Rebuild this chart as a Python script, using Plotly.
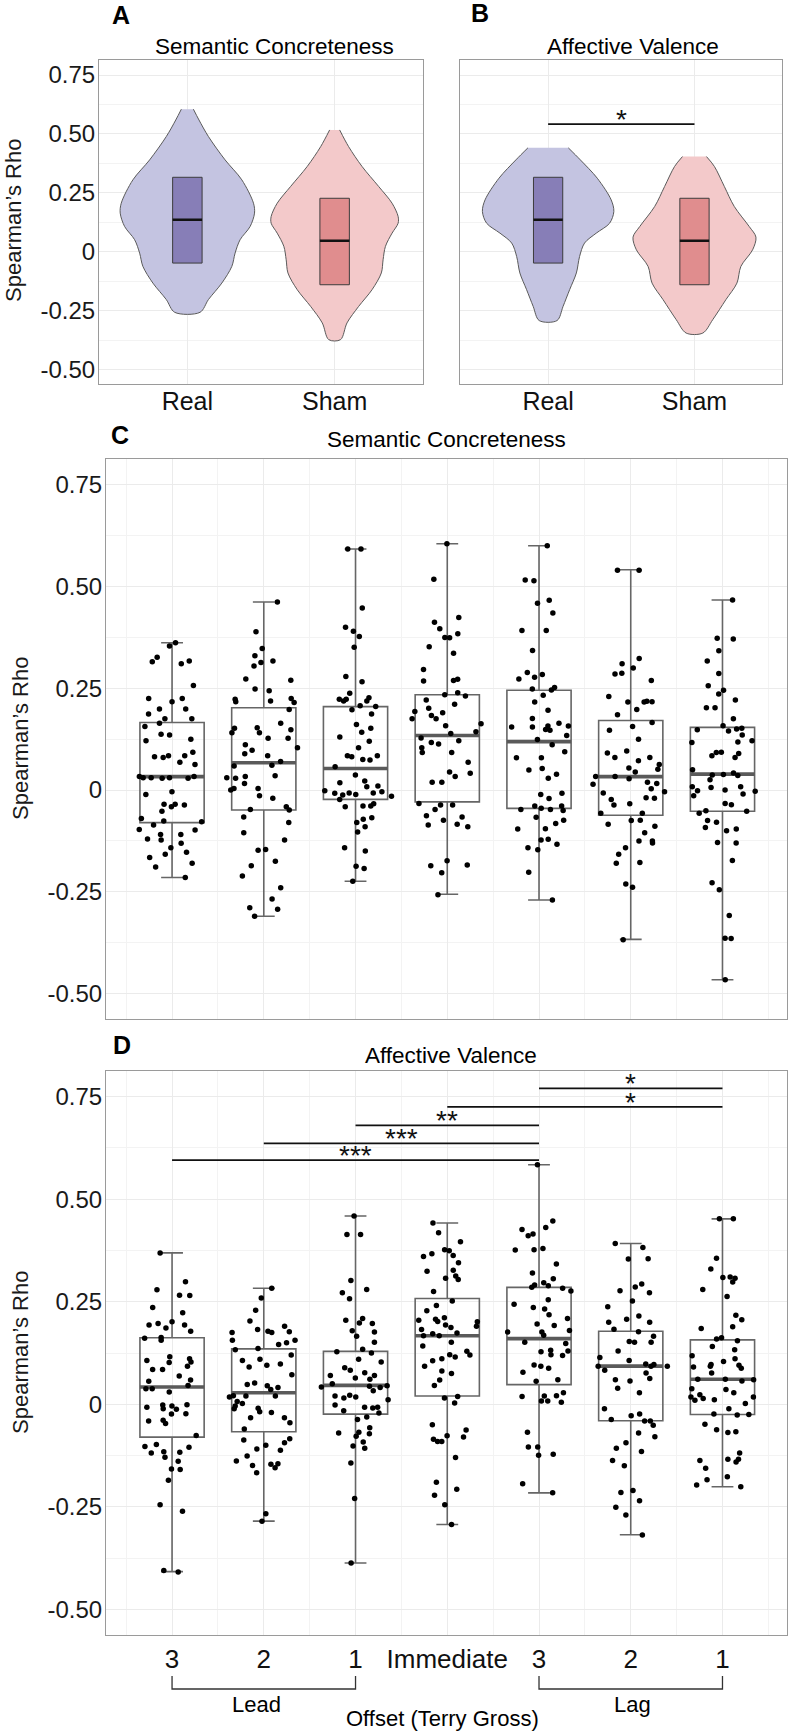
import plotly.graph_objects as go

W, H = 790, 1732
FONT_REG = "Liberation Sans, Arial, Helvetica, sans-serif"

# ---------------- data ----------------
violin_groups = ["Real", "Sham"]
offset_pos = [1, 2, 3, 4, 5, 6, 7]
offset_labels = ["3", "2", "1", "Immediate", "3", "2", "1"]
y_tick_vals = [-0.5, -0.25, 0, 0.25, 0.5, 0.75]
y_tick_text = ["-0.50", "-0.25", "0", "0.25", "0.50", "0.75"]

# violin outlines (level of rho, half width of density) - panel A
vA_real_lvl = [0.605, 0.559, 0.489, 0.390, 0.305, 0.206, 0.164, 0.107, 0.051, -0.006, -0.062, -0.133, -0.203, -0.257]
vA_real_w = [0.041, 0.079, 0.143, 0.256, 0.370, 0.449, 0.456, 0.426, 0.358, 0.324, 0.302, 0.234, 0.143, 0.086]
vA_sham_lvl = [0.517, 0.446, 0.362, 0.277, 0.206, 0.150, 0.121, 0.079, 0.023, -0.034, -0.090, -0.161, -0.232, -0.302, -0.373]
vA_sham_w = [0.034, 0.095, 0.186, 0.299, 0.390, 0.431, 0.431, 0.390, 0.345, 0.329, 0.317, 0.254, 0.163, 0.084, 0.040]
# panel B
vB_real_lvl = [0.441, 0.390, 0.312, 0.220, 0.171, 0.121, 0.079, 0.037, -0.020, -0.090, -0.161, -0.232, -0.292]
vB_real_w = [0.138, 0.220, 0.336, 0.431, 0.449, 0.420, 0.329, 0.249, 0.215, 0.193, 0.147, 0.102, 0.061]
vB_sham_lvl = [0.404, 0.362, 0.277, 0.192, 0.107, 0.062, 0.008, -0.062, -0.133, -0.203, -0.288, -0.345]
vB_sham_w = [0.082, 0.136, 0.204, 0.272, 0.374, 0.420, 0.397, 0.317, 0.290, 0.215, 0.125, 0.057]

# inner boxes of the violins (Real, Sham)
vbox_q1 = [-0.048, -0.140]
vbox_med = [0.136, 0.047]
vbox_q3 = [0.316, 0.227]

sig_b_pair = [1, 2]
sig_b_y = 0.542
sig_b_label = "*"

# panel C: Semantic Concreteness, per offset
sem_lead3 = [0.310, 0.317, 0.354, 0.362, 0.326, 0.315, 0.257, 0.225, 0.217, 0.225, 0.199, 0.199, 0.187, 0.175, 0.175,
             0.164, 0.156, 0.135, 0.137, 0.125, 0.121, 0.084, 0.082, 0.080, 0.093, 0.084, 0.068, 0.063, 0.033, 0.030,
             0.029, 0.033, 0.030, 0.029, 0.030, -0.011, -0.004, -0.035, -0.037, -0.041, -0.035, -0.052, -0.070, -0.086,
             -0.076, -0.078, -0.109, -0.098, -0.097, -0.109, -0.123, -0.131, -0.142, -0.120, -0.153, -0.158, -0.166,
             -0.180, -0.189, -0.215]
sem_lead2 = [0.462, 0.389, 0.348, 0.330, 0.313, 0.317, 0.305, 0.273, 0.270, 0.248, 0.244, 0.225, 0.217, 0.215, 0.223,
             0.219, 0.198, 0.164, 0.153, 0.148, 0.152, 0.141, 0.141, 0.127, 0.127, 0.111, 0.104, 0.098, 0.089, 0.084,
             0.070, 0.061, 0.059, 0.035, 0.033, 0.030, 0.029, 0.016, 0.004, 0.004, 0.000, -0.014, -0.020, -0.041,
             -0.048, -0.049, -0.066, -0.080, -0.105, -0.123, -0.146, -0.148, -0.175, -0.186, -0.211, -0.240, -0.268,
             -0.289, -0.293, -0.310]
sem_lead1 = [0.592, 0.592, 0.447, 0.390, 0.400, 0.377, 0.351, 0.279, 0.266, 0.238, 0.227, 0.219, 0.223, 0.223, 0.219,
             0.205, 0.207, 0.197, 0.187, 0.152, 0.161, 0.142, 0.130, 0.120, 0.104, 0.082, 0.084, 0.084, 0.075, 0.074,
             0.057, 0.037, 0.022, 0.018, 0.008, 0.010, -0.007, -0.002, -0.004, -0.012, -0.007, -0.011, -0.008, -0.015,
             -0.023, -0.034, -0.039, -0.041, -0.039, -0.072, -0.068, -0.080, -0.090, -0.103, -0.142, -0.150, -0.187,
             -0.193, -0.224]
sem_immediate = [0.605, 0.518, 0.424, 0.412, 0.396, 0.384, 0.375, 0.374, 0.352, 0.336, 0.296, 0.269, 0.272, 0.268,
                 0.231, 0.234, 0.239, 0.221, 0.201, 0.211, 0.190, 0.193, 0.183, 0.175, 0.175, 0.163, 0.158, 0.143,
                 0.139, 0.128, 0.121, 0.117, 0.113, 0.104, 0.092, 0.092, 0.068, 0.033, 0.041, 0.044, 0.019, 0.019,
                 -0.037, -0.037, -0.033, -0.048, -0.066, -0.063, -0.074, -0.084, -0.086, -0.090, -0.174, -0.186,
                 -0.184, -0.203, -0.257]
sem_lag3 = [0.600, 0.514, 0.516, 0.459, 0.466, 0.435, 0.392, 0.392, 0.343, 0.289, 0.284, 0.273, 0.277, 0.246, 0.248,
            0.252, 0.233, 0.216, 0.196, 0.176, 0.157, 0.164, 0.155, 0.149, 0.157, 0.147, 0.155, 0.134, 0.124, 0.111,
            0.094, 0.079, 0.079, 0.053, 0.039, 0.049, 0.029, -0.008, -0.011, -0.021, -0.039, -0.045, -0.039, -0.050,
            -0.048, -0.048, -0.067, -0.074, -0.096, -0.095, -0.082, -0.121, -0.123, -0.142, -0.133, -0.147, -0.202,
            -0.270]
sem_lag2 = [0.540, 0.540, 0.323, 0.310, 0.300, 0.287, 0.285, 0.269, 0.230, 0.218, 0.217, 0.216, 0.216, 0.198, 0.185,
            0.166, 0.156, 0.147, 0.125, 0.091, 0.080, 0.080, 0.072, 0.096, 0.063, 0.051, 0.054, 0.044, 0.033, 0.028,
            0.033, 0.019, 0.014, 0.016, 0.003, -0.007, -0.004, -0.023, -0.019, -0.020, -0.034, -0.037, -0.057, -0.057,
            -0.074, -0.075, -0.084, -0.089, -0.105, -0.125, -0.130, -0.125, -0.142, -0.158, -0.178, -0.180, -0.239,
            -0.231, -0.368]
sem_lag1 = [0.467, 0.373, 0.371, 0.342, 0.317, 0.286, 0.256, 0.236, 0.245, 0.221, 0.202, 0.202, 0.175, 0.150, 0.158,
            0.145, 0.152, 0.135, 0.148, 0.121, 0.118, 0.117, 0.092, 0.093, 0.084, 0.090, 0.080, 0.050, 0.042, 0.036,
            0.037, 0.038, -0.002, -0.010, 0.008, 0.008, 0.000, -0.003, 0.025, 0.006, -0.014, -0.036, -0.033, -0.052,
            -0.051, -0.057, -0.075, -0.079, -0.092, -0.096, -0.100, -0.129, -0.130, -0.173, -0.245, -0.228, -0.308,
            -0.364, -0.365, -0.466]
sem_q1 = [-0.080, -0.049, -0.023, -0.029, -0.045, -0.062, -0.052]
sem_med = [0.033, 0.067, 0.053, 0.134, 0.119, 0.033, 0.039]
sem_q3 = [0.166, 0.202, 0.205, 0.234, 0.245, 0.171, 0.154]
sem_lo = [-0.215, -0.310, -0.224, -0.256, -0.270, -0.367, -0.466]
sem_hi = [0.362, 0.462, 0.592, 0.605, 0.600, 0.541, 0.467]

# panel D: Affective Valence, per offset
val_lead3 = [0.369, 0.299, 0.265, 0.279, 0.266, 0.236, 0.223, 0.193, 0.186, 0.193, 0.197, 0.201, 0.178, 0.163, 0.161,
             0.156, 0.116, 0.107, 0.103, 0.102, 0.111, 0.085, 0.093, 0.085, 0.069, 0.059, 0.056, 0.046, 0.038, 0.038,
             0.030, -0.002, -0.004, -0.001, -0.011, -0.007, -0.012, -0.023, -0.024, -0.041, -0.047, -0.039, -0.076,
             -0.103, -0.105, -0.098, -0.119, -0.139, -0.117, -0.129, -0.116, -0.159, -0.158, -0.185, -0.261, -0.245,
             -0.405, -0.409]
val_lead2 = [0.283, 0.259, 0.229, 0.203, 0.190, 0.175, 0.178, 0.175, 0.177, 0.182, 0.156, 0.150, 0.156, 0.146, 0.136,
             0.133, 0.120, 0.110, 0.107, 0.098, 0.095, 0.091, 0.072, 0.052, 0.048, 0.045, 0.041, 0.036, 0.020, 0.021,
             0.020, 0.018, 0.007, -0.004, 0.002, -0.010, -0.011, -0.018, -0.020, -0.033, -0.033, -0.045, -0.060,
             -0.094, -0.100, -0.084, -0.087, -0.109, -0.112, -0.126, -0.138, -0.146, -0.145, -0.149, -0.155, -0.167,
             -0.267, -0.285]
val_lead1 = [0.459, 0.414, 0.414, 0.302, 0.272, 0.280, 0.257, 0.209, 0.205, 0.197, 0.198, 0.176, 0.179, 0.151, 0.166,
             0.134, 0.128, 0.125, 0.103, 0.110, 0.089, 0.083, 0.077, 0.070, 0.061, 0.064, 0.070, 0.050, 0.042, 0.041,
             0.044, 0.045, 0.033, 0.022, 0.020, 0.018, 0.015, 0.011, -0.002, -0.007, -0.007, -0.009, -0.016, -0.021,
             -0.031, -0.037, -0.057, -0.072, -0.070, -0.078, -0.068, -0.092, -0.107, -0.102, -0.143, -0.230, -0.387]
val_immediate = [0.442, 0.418, 0.396, 0.377, 0.374, 0.363, 0.367, 0.360, 0.345, 0.327, 0.324, 0.313, 0.307, 0.304,
                 0.275, 0.252, 0.241, 0.228, 0.202, 0.211, 0.207, 0.201, 0.205, 0.193, 0.182, 0.187, 0.190, 0.167,
                 0.174, 0.172, 0.167, 0.151, 0.142, 0.129, 0.121, 0.120, 0.115, 0.111, 0.106, 0.093, 0.081, 0.075,
                 0.059, 0.046, 0.019, 0.015, 0.003, -0.050, -0.063, -0.077, -0.091, -0.091, -0.085, -0.080, -0.130,
                 -0.190, -0.207, -0.222, -0.245, -0.293]
val_lag3 = [0.584, 0.431, 0.426, 0.415, 0.447, 0.411, 0.380, 0.376, 0.377, 0.342, 0.320, 0.306, 0.296, 0.285, 0.276,
            0.289, 0.283, 0.291, 0.255, 0.244, 0.236, 0.232, 0.218, 0.209, 0.196, 0.192, 0.176, 0.180, 0.176, 0.168,
            0.151, 0.148, 0.119, 0.128, 0.132, 0.130, 0.121, 0.093, 0.096, 0.088, 0.078, 0.056, 0.060, 0.019, 0.021,
            0.020, 0.008, 0.008, 0.005, 0.028, -0.068, -0.104, -0.104, -0.124, -0.122, -0.194, -0.216]
val_lag2 = [0.392, 0.382, 0.354, 0.355, 0.293, 0.286, 0.277, 0.272, 0.252, 0.238, 0.215, 0.200, 0.200, 0.207, 0.183,
            0.177, 0.166, 0.153, 0.151, 0.151, 0.130, 0.114, 0.107, 0.093, 0.098, 0.093, 0.097, 0.093, 0.083, 0.076,
            0.063, 0.060, 0.057, 0.039, 0.028, -0.011, -0.024, -0.028, -0.041, -0.041, -0.037, -0.051, -0.079, -0.070,
            -0.094, -0.107, -0.115, -0.137, -0.150, -0.210, -0.215, -0.235, -0.251, -0.270, -0.319]
val_lag1 = [0.452, 0.452, 0.356, 0.330, 0.310, 0.309, 0.307, 0.298, 0.280, 0.263, 0.217, 0.206, 0.189, 0.185, 0.159,
            0.162, 0.155, 0.141, 0.133, 0.118, 0.111, 0.104, 0.095, 0.091, 0.097, 0.093, 0.088, 0.076, 0.061, 0.057,
            0.060, 0.061, 0.038, 0.036, 0.028, 0.023, 0.014, 0.018, 0.018, 0.011, 0.010, 0.002, -0.011, -0.026,
            -0.025, -0.024, -0.049, -0.062, -0.067, -0.069, -0.119, -0.137, -0.134, -0.134, -0.141, -0.156, -0.177,
            -0.184, -0.197, -0.201]
val_q1 = [-0.080, -0.067, -0.024, 0.020, 0.048, -0.040, -0.025]
val_med = [0.042, 0.028, 0.046, 0.167, 0.160, 0.093, 0.061]
val_q3 = [0.162, 0.135, 0.129, 0.258, 0.285, 0.178, 0.157]
val_lo = [-0.408, -0.285, -0.387, -0.293, -0.216, -0.318, -0.201]
val_hi = [0.369, 0.283, 0.459, 0.442, 0.584, 0.392, 0.452]

# significance bars in panel D
sig_d_from = [5, 4, 3, 2, 1]
sig_d_to = [7, 7, 5, 5, 5]
sig_d_y = [0.770, 0.725, 0.680, 0.636, 0.595]
sig_d_label = ["*", "*", "**", "***", "***"]
sig_d_label_x = [6, 6, 4, 3.5, 3]

lead_span = [1, 3]
lag_span = [5, 7]

sem_groups = [sem_lead3, sem_lead2, sem_lead1, sem_immediate, sem_lag3, sem_lag2, sem_lag1]
val_groups = [val_lead3, val_lead2, val_lead1, val_immediate, val_lag3, val_lag2, val_lag1]

# ---------------- styling ----------------
REAL_FILL = "rgb(196,196,225)"
SHAM_FILL = "rgb(243,201,202)"
REAL_BOX = "rgb(135,126,183)"
SHAM_BOX = "rgb(224,141,142)"
GRID = "#EBEBEB"
GRID_MINOR = "#F3F3F3"
BORDER = "#9A9A9A"
BOX_LINE = "#666666"
INNER_BOX_HALF = 0.1


def fx(p):
    return p / W


def fy(p):
    return 1 - p / H


fig = go.Figure()


def violin(center, lvl, w, fill, xa, ya):
    xs = [center + v for v in w] + [center - v for v in reversed(w)]
    ys = list(lvl) + list(reversed(lvl))
    fig.add_trace(go.Scatter(x=xs, y=ys, mode="lines", fill="toself", fillcolor=fill,
                             line=dict(color="#5a5a5a", width=1, shape="spline", smoothing=0.9),
                             xaxis=xa, yaxis=ya, hoverinfo="skip", showlegend=False))


for xa, ya, outlines in [("x", "y", [(vA_real_lvl, vA_real_w), (vA_sham_lvl, vA_sham_w)]),
                         ("x2", "y2", [(vB_real_lvl, vB_real_w), (vB_sham_lvl, vB_sham_w)])]:
    for i, (lvl, w) in enumerate(outlines):
        violin(i + 1, lvl, w, [REAL_FILL, SHAM_FILL][i], xa, ya)
    for i in range(2):
        c = i + 1
        l, r = c - INNER_BOX_HALF, c + INNER_BOX_HALF
        fig.add_trace(go.Scatter(x=[l, r, r, l, l], y=[vbox_q1[i], vbox_q1[i], vbox_q3[i], vbox_q3[i], vbox_q1[i]],
                                 mode="lines", fill="toself", fillcolor=[REAL_BOX, SHAM_BOX][i],
                                 line=dict(color="#3c3c3c", width=1), xaxis=xa, yaxis=ya,
                                 hoverinfo="skip", showlegend=False))
        fig.add_trace(go.Scatter(x=[l, r], y=[vbox_med[i], vbox_med[i]], mode="lines",
                                 line=dict(color="#111111", width=2.4), xaxis=xa, yaxis=ya,
                                 hoverinfo="skip", showlegend=False))

# significance bar panel B
fig.add_trace(go.Scatter(x=sig_b_pair, y=[sig_b_y, sig_b_y], mode="lines", line=dict(color="#111", width=1.8),
                         xaxis="x2", yaxis="y2", hoverinfo="skip", showlegend=False))


def box_panel(groups, q1, med, q3, lo, hi, xa, ya):
    fig.add_trace(go.Box(x=offset_pos, q1=q1, median=med, q3=q3, lowerfence=lo, upperfence=hi,
                         width=0.7, whiskerwidth=0.34, fillcolor="rgba(0,0,0,0)",
                         line=dict(color=BOX_LINE, width=1.6), boxpoints=False,
                         xaxis=xa, yaxis=ya, hoverinfo="skip", showlegend=False))
    fig.add_trace(go.Box(x=offset_pos, q1=med, median=med, q3=med, lowerfence=med, upperfence=med,
                         width=0.7, whiskerwidth=0, fillcolor="rgba(0,0,0,0)",
                         line=dict(color="#5a5a5a", width=3.6), boxpoints=False,
                         xaxis=xa, yaxis=ya, hoverinfo="skip", showlegend=False))
    xs, ys = [], []
    for p, g in zip(offset_pos, groups):
        xs += [p] * len(g)
        ys += g
    fig.add_trace(go.Box(x=xs, y=ys, boxpoints="all", jitter=1, pointpos=0, width=0.85,
                         fillcolor="rgba(0,0,0,0)", line=dict(color="rgba(0,0,0,0)", width=0),
                         marker=dict(color="black", size=5.5), xaxis=xa, yaxis=ya,
                         hoverinfo="skip", showlegend=False))


box_panel(sem_groups, sem_q1, sem_med, sem_q3, sem_lo, sem_hi, "x3", "y3")
box_panel(val_groups, val_q1, val_med, val_q3, val_lo, val_hi, "x4", "y4")

# significance bars panel D
bx, by = [], []
for a, b, h in zip(sig_d_from, sig_d_to, sig_d_y):
    bx += [a, b, None]
    by += [h, h, None]
fig.add_trace(go.Scatter(x=bx, y=by, mode="lines", line=dict(color="#111", width=1.8),
                         xaxis="x4", yaxis="y4", hoverinfo="skip", showlegend=False))

annotations = []
for lx, h, t in zip(sig_d_label_x, sig_d_y, sig_d_label):
    annotations.append(dict(x=lx, y=h, xref="x4", yref="y4", text=t, showarrow=False, yanchor="bottom",
                            yshift=-13, font=dict(family=FONT_REG, size=28, color="#111")))
annotations.append(dict(x=sum(sig_b_pair) / 2, y=sig_b_y, xref="x2", yref="y2", text=sig_b_label, showarrow=False,
                        yanchor="bottom", yshift=-13, font=dict(family=FONT_REG, size=28, color="#111")))

# panel letters and titles
for t, x, y in [("A", 120.5, 14.5), ("B", 480, 13.5), ("C", 120, 435), ("D", 122, 1045)]:
    annotations.append(dict(x=fx(x), y=fy(y), xref="paper", yref="paper", text="<b>%s</b>" % t, showarrow=False,
                            xanchor="center", yanchor="middle", font=dict(family=FONT_REG, size=25, color="black")))
for t, x, y in [("Semantic Concreteness", 274.5, 46), ("Affective Valence", 633, 47),
                ("Semantic Concreteness", 446.5, 440), ("Affective Valence", 451, 1055)]:
    annotations.append(dict(x=fx(x), y=fy(y), xref="paper", yref="paper", text=t, showarrow=False,
                            xanchor="center", yanchor="middle", font=dict(family=FONT_REG, size=22.5, color="black")))
for x, y in [(13, 221), (20, 739), (20, 1353)]:
    annotations.append(dict(x=fx(x), y=fy(y), xref="paper", yref="paper", text="Spearman\u2019s Rho",
                            showarrow=False, textangle=-90, xanchor="center", yanchor="middle",
                            font=dict(family=FONT_REG, size=22, color="#1a1a1a")))

# Lead / Lag brackets
shapes = []
for span in [lead_span, lag_span]:
    shapes.append(dict(type="path", xref="x4", yref="paper",
                       path="M %g,%g L %g,%g L %g,%g L %g,%g" % (span[0], fy(1676), span[0], fy(1689),
                                                                  span[1], fy(1689), span[1], fy(1676)),
                       line=dict(color="#333333", width=1.3)))
for t, x, y in [("Lead", 256, 1704), ("Lag", 632, 1704), ("Offset (Terry Gross)", 442, 1718)]:
    annotations.append(dict(x=fx(x), y=fy(y), xref="paper", yref="paper", text=t, showarrow=False,
                            xanchor="center", yanchor="middle", font=dict(family=FONT_REG, size=22, color="black")))

yminor = dict(tickvals=[-0.375, -0.125, 0.125, 0.375, 0.625], showgrid=True, gridcolor=GRID_MINOR, gridwidth=0.8)
xminor7 = dict(tickvals=[0.5 + i for i in range(8)], showgrid=True, gridcolor=GRID_MINOR, gridwidth=0.8)


def yax(domain, labels):
    return dict(domain=domain, range=[-0.5625, 0.8125], tickvals=y_tick_vals, ticktext=y_tick_text,
                showticklabels=labels, ticks="", showgrid=True, gridcolor=GRID, gridwidth=1, zeroline=False,
                showline=True, mirror=True, linecolor=BORDER, linewidth=1, minor=yminor,
                tickfont=dict(family=FONT_REG, size=24, color="#1a1a1a"), ticklabelstandoff=-2, automargin=False)


yAB = [fy(384.3), fy(60.3)]
yC = [fy(1019), fy(459.3)]
yD = [fy(1635), fy(1071)]
xCD = [fx(106), fx(786.7)]

fig.update_layout(
    width=W, height=H, margin=dict(l=0, r=0, t=0, b=0),
    paper_bgcolor="white", plot_bgcolor="white", boxmode="overlay", showlegend=False,
    xaxis=dict(domain=[fx(99), fx(423)], range=[0.4, 2.6], tickvals=[1, 2], ticktext=violin_groups, anchor="y",
               ticks="", showgrid=True, gridcolor=GRID, zeroline=False, showline=True, mirror=True,
               linecolor=BORDER, tickfont=dict(family=FONT_REG, size=25, color="#111"), ticklabelstandoff=-5,
               automargin=False),
    yaxis=dict(yax(yAB, True), anchor="x"),
    xaxis2=dict(domain=[fx(460.3), fx(782.3)], range=[0.4, 2.6], tickvals=[1, 2], ticktext=violin_groups,
                anchor="y2", ticks="", showgrid=True, gridcolor=GRID, zeroline=False, showline=True, mirror=True,
                linecolor=BORDER, tickfont=dict(family=FONT_REG, size=25, color="#111"), ticklabelstandoff=-5,
                automargin=False),
    yaxis2=dict(yax(yAB, False), anchor="x2"),
    xaxis3=dict(domain=xCD, range=[0.28, 7.70], tickvals=offset_pos, ticktext=offset_labels, anchor="y3",
                showticklabels=False, ticks="", showgrid=True, gridcolor=GRID, zeroline=False, showline=True,
                mirror=True, linecolor=BORDER, minor=xminor7, automargin=False),
    yaxis3=dict(yax(yC, True), anchor="x3"),
    xaxis4=dict(domain=xCD, range=[0.28, 7.70], tickvals=offset_pos, ticktext=offset_labels, anchor="y4",
                ticks="", showgrid=True, gridcolor=GRID, zeroline=False, showline=True, mirror=True,
                linecolor=BORDER, minor=xminor7, tickfont=dict(family=FONT_REG, size=26, color="#111"),
                ticklabelstandoff=1, automargin=False),
    yaxis4=dict(yax(yD, True), anchor="x4"),
    annotations=annotations, shapes=shapes,
)

fig.write_html("out.html")
